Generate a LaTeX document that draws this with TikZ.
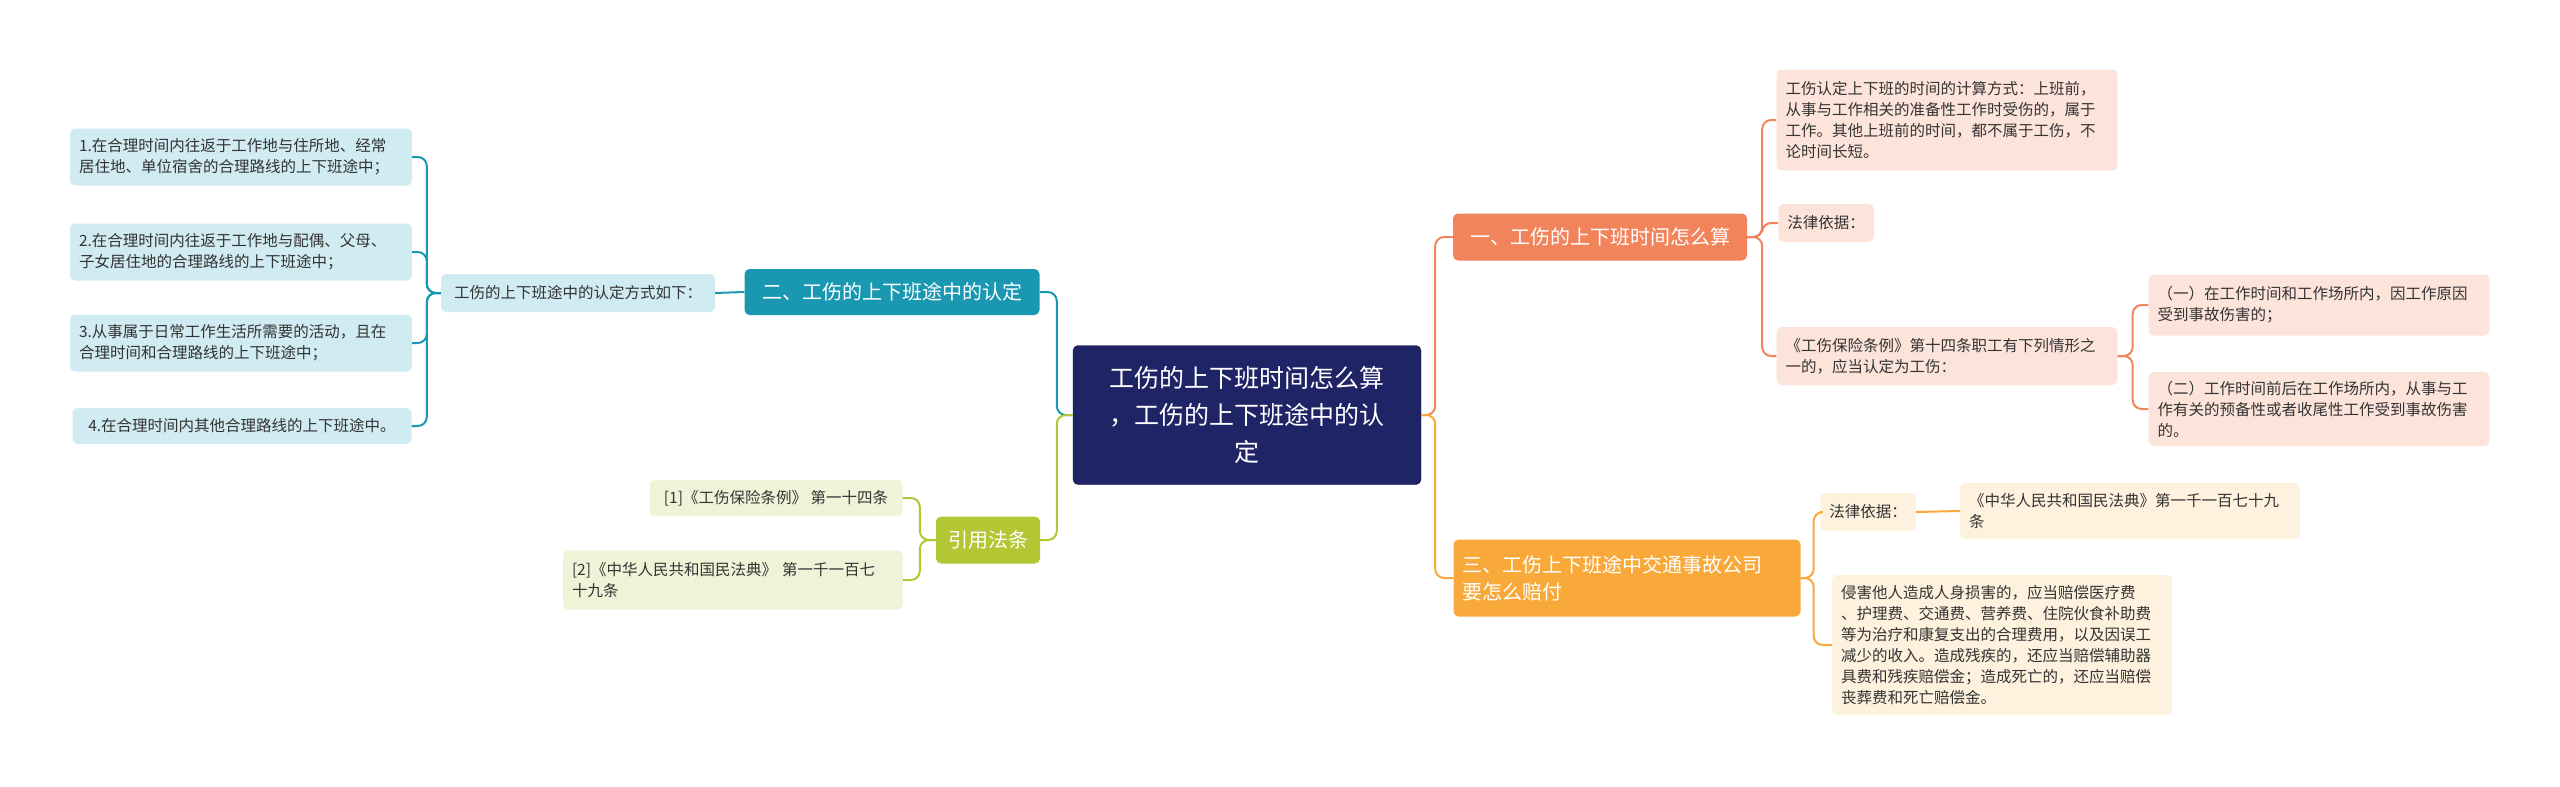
\documentclass[tikz,border=0pt]{standalone}
\usepackage{fontspec}
\setmainfont{Noto Sans CJK SC}
\usetikzlibrary{calc}
\definecolor{navy}{HTML}{1F2466}
\definecolor{salmon}{HTML}{F2845C}
\definecolor{salmonl}{HTML}{FDE4DB}
\definecolor{amber}{HTML}{F9A93A}
\definecolor{amberl}{HTML}{FEF1DD}
\definecolor{teal}{HTML}{1A98B2}
\definecolor{tealL}{HTML}{D0EBF2}
\definecolor{lime}{HTML}{B3C735}
\definecolor{limeL}{HTML}{EFF4D8}
\definecolor{txt}{HTML}{333333}
\tikzset{
 box/.style={rounded corners=5pt, inner xsep=9pt, inner ysep=6pt, align=left, anchor=center, font=\fontsize{15.5}{21}\selectfont, text=txt},
 mainbox/.style={box, font=\fontsize{20}{27}\selectfont, text=white},
 lnk/.style={line width=2pt, rounded corners=9pt},
}
\begin{document}
\begin{tikzpicture}[x=1pt,y=-1pt]
\useasboundingbox (0,0) rectangle (2560,787);
% center
\node[box, fill=navy, draw=navy!60!black, text=white, align=center, font=\fontsize{25}{37}\selectfont, text width=330, minimum height=139] (c) at (1247,415) {工伤的上下班时间怎么算\\，工伤的上下班途中的认\\定};
% right 1
\node[mainbox, fill=salmon, minimum width=294, minimum height=47, align=left] (r1) at (1600,237) {一、工伤的上下班时间怎么算};
\node[box, fill=salmonl, text width=323, minimum height=101] (r1a) at (1947,120) {工伤认定上下班的时间的计算方式：上班前，\\从事与工作相关的准备性工作时受伤的，属于\\工作。其他上班前的时间，都不属于工伤，不\\论时间长短。};
\node[box, fill=salmonl, minimum height=38] (r1b) at (1826,223) {法律依据：};
\node[box, fill=salmonl, text width=323, minimum height=58] (r1c) at (1947,356) {《工伤保险条例》第十四条职工有下列情形之\\一的，应当认定为工伤：};
\node[box, fill=salmonl, text width=323, minimum height=61] (r1c1) at (2319,305) {（一）在工作时间和工作场所内，因工作原因\\受到事故伤害的；};
\node[box, fill=salmonl, text width=323, minimum height=74] (r1c2) at (2319,409) {（二）工作时间前后在工作场所内，从事与工\\作有关的预备性或者收尾性工作受到事故伤害\\的。};
% right 2
\node[mainbox, fill=amber, text width=329, minimum height=77] (r2) at (1627,578) {三、工伤上下班途中交通事故公司\\要怎么赔付};
\node[box, fill=amberl, minimum height=38] (r2a) at (1868,512) {法律依据：};
\node[box, fill=amberl, text width=322, minimum height=56] (r2b) at (2130,511) {《中华人民共和国民法典》第一千一百七十九\\条};
\node[box, fill=amberl, text width=322, minimum height=140] (r2c) at (2002,645) {侵害他人造成人身损害的，应当赔偿医疗费\\、护理费、交通费、营养费、住院伙食补助费\\等为治疗和康复支出的合理费用，以及因误工\\减少的收入。造成残疾的，还应当赔偿辅助器\\具费和残疾赔偿金；造成死亡的，还应当赔偿\\丧葬费和死亡赔偿金。};
% left 1
\node[mainbox, fill=teal, minimum width=295, minimum height=46, align=left] (l1) at (892,292) {二、工伤的上下班途中的认定};
\node[box, fill=tealL, minimum width=274, minimum height=38] (l1a) at (578,293) {工伤的上下班途中的认定方式如下：};
\node[box, fill=tealL, text width=324, minimum height=57] (i1) at (241,157) {1.在合理时间内往返于工作地与住所地、经常\\居住地、单位宿舍的合理路线的上下班途中；};
\node[box, fill=tealL, text width=324, minimum height=57] (i2) at (241,252) {2.在合理时间内往返于工作地与配偶、父母、\\子女居住地的合理路线的上下班途中；};
\node[box, fill=tealL, text width=324, minimum height=57] (i3) at (241,343) {3.从事属于日常工作生活所需要的活动，且在\\合理时间和合理路线的上下班途中；};
\node[box, fill=tealL, minimum width=339, minimum height=36, align=left] (i4) at (242,426) {4.在合理时间内其他合理路线的上下班途中。};
% left 2
\node[mainbox, fill=lime, minimum width=104, minimum height=47] (l2) at (988,540) {引用法条};
\node[box, fill=limeL, minimum width=253, minimum height=36] (l2a) at (776,498) {[1]《工伤保险条例》 第一十四条};
\node[box, fill=limeL, text width=322, minimum height=59] (l2b) at (733,580) {[2]《中华人民共和国民法典》 第一千一百七\\十九条};
% connectors
\draw[lnk, salmon] (c.east) -- ++(14,0) |- (r1.west);
\draw[lnk, amber] (c.east) -- ++(14,0) |- (r2.west);
\draw[lnk, teal] (c.west) -- ++(-16,0) |- (l1.east);
\draw[lnk, lime] (c.west) -- ++(-16,0) |- (l2.east);
\foreach \t in {r1a,r1b,r1c} \draw[lnk, salmon] (r1.east) -- ++(15,0) |- (\t.west);
\foreach \t in {r1c1,r1c2} \draw[lnk, salmon] (r1c.east) -- ++(15,0) |- (\t.west);
\foreach \t in {r2a,r2c} \draw[lnk, amber] (r2.east) -- ++(13,0) |- (\t.west);
\draw[lnk, amber] (r2a.east) -- (r2b.west);
\draw[lnk, teal] (l1.west) -- (l1a.east);
\foreach \t in {i1,i2,i3,i4} \draw[lnk, teal] (l1a.west) -- ++(-14,0) |- (\t.east);
\foreach \t in {l2a,l2b} \draw[lnk, lime] (l2.west) -- ++(-16,0) |- (\t.east);
\end{tikzpicture}
\end{document}
